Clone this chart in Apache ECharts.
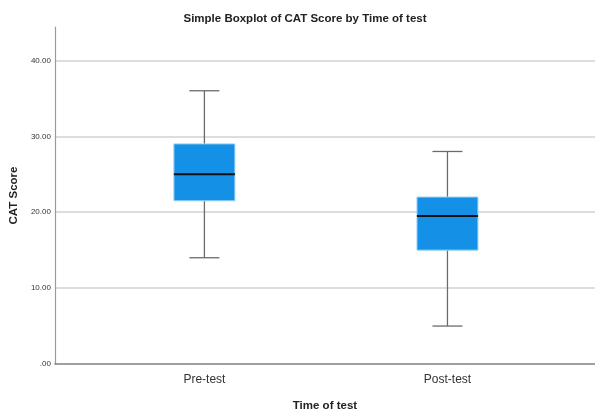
<!DOCTYPE html>
<html>
<head>
<meta charset="utf-8">
<script src="https://cdn.jsdelivr.net/npm/echarts@6/dist/echarts.min.js"></script>
<style>
html,body{margin:0;padding:0;background:#fff;}
#chart{width:595px;height:417px;}
</style>
</head>
<body>
<div id="chart"></div>
<script>
// Data
var categories = ['Pre-test', 'Post-test'];
var whiskerLow = [14, 5];
var quartile1 = [21.5, 15];
var medians = [25, 19.5];
var quartile3 = [29, 22];
var whiskerHigh = [36, 28];
var yTicks = [0, 10, 20, 30, 40];

var FONT = '"Liberation Sans Narrow", "Liberation Sans", Arial, sans-serif';

var boxData = categories.map(function (c, i) {
  return [i + 1, whiskerLow[i], quartile1[i], medians[i], quartile3[i], whiskerHigh[i]];
});

var chart = echarts.init(document.getElementById('chart'), null, {renderer: 'canvas'});

function renderBox(params, api) {
  var x = api.value(0);
  var pMin = api.coord([x, api.value(1)]);
  var pQ1 = api.coord([x, api.value(2)]);
  var pMed = api.coord([x, api.value(3)]);
  var pQ3 = api.coord([x, api.value(4)]);
  var pMax = api.coord([x, api.value(5)]);
  var cx = pMed[0];
  var bw = 61, cw = 30;
  var whiskerStyle = {stroke: '#6b6b6b', lineWidth: 1.3};
  return {
    type: 'group',
    children: [
      {type: 'line', shape: {x1: cx, y1: pMax[1], x2: cx, y2: pQ3[1]}, style: whiskerStyle},
      {type: 'line', shape: {x1: cx, y1: pQ1[1], x2: cx, y2: pMin[1]}, style: whiskerStyle},
      {type: 'line', shape: {x1: cx - cw / 2, y1: pMax[1], x2: cx + cw / 2, y2: pMax[1]}, style: whiskerStyle},
      {type: 'line', shape: {x1: cx - cw / 2, y1: pMin[1], x2: cx + cw / 2, y2: pMin[1]}, style: whiskerStyle},
      {type: 'rect', shape: {x: cx - bw / 2, y: pQ3[1], width: bw, height: pQ1[1] - pQ3[1]},
        style: {fill: '#1490e6', stroke: '#9fd3f7', lineWidth: 1}},
      {type: 'line', shape: {x1: cx - bw / 2, y1: pMed[1], x2: cx + bw / 2, y2: pMed[1]},
        style: {stroke: '#111', lineWidth: 2}}
    ]
  };
}

chart.setOption({
  animation: false,
  backgroundColor: '#ffffff',
  title: {
    text: 'Simple Boxplot of CAT Score by Time of test',
    left: 300,
    textAlign: 'center',
    top: 8,
    textStyle: {fontFamily: FONT, fontWeight: 'bold', fontSize: 11.5, color: '#222'}
  },
  grid: {left: 53, right: 0, top: 27, bottom: 52, containLabel: false},
  xAxis: {
    type: 'value',
    min: 0.385,
    max: 2.607,
    name: 'Time of test',
    nameLocation: 'middle',
    nameGap: 36,
    nameTextStyle: {fontFamily: FONT, fontWeight: 'bold', fontSize: 11.5, color: '#222'},
    axisLine: {show: true, onZero: false, lineStyle: {color: '#808080', width: 1.5}},
    axisTick: {show: false},
    splitLine: {show: false},
    axisLabel: {
      customValues: categories.map(function (c, i) { return i + 1; }),
      formatter: function (v) { return categories[Math.round(v) - 1] || ''; },
      fontFamily: FONT, fontSize: 12, color: '#333', margin: 10
    }
  },
  yAxis: {
    type: 'value',
    min: 0,
    max: 44.4,
    interval: 10,
    name: 'CAT Score',
    nameLocation: 'middle',
    nameGap: 28,
    nameTextStyle: {fontFamily: FONT, fontWeight: 'bold', fontSize: 11.5, color: '#222'},
    axisLine: {show: true, lineStyle: {color: '#9a9a9a', width: 1.2}},
    axisTick: {show: false},
    splitLine: {show: true, showMinLine: false, showMaxLine: false, lineStyle: {color: '#d2d2d2', width: 1.5}},
    axisLabel: {
      customValues: yTicks,
      formatter: function (v) { return v === 0 ? '.00' : v.toFixed(2); },
      fontFamily: FONT, fontSize: 8, color: '#333', margin: 4
    }
  },
  series: [{
    type: 'custom',
    renderItem: renderBox,
    data: boxData,
    encode: {x: 0, y: [1, 2, 3, 4, 5]},
    z: 5
  }]
});
</script>
</body>
</html>
